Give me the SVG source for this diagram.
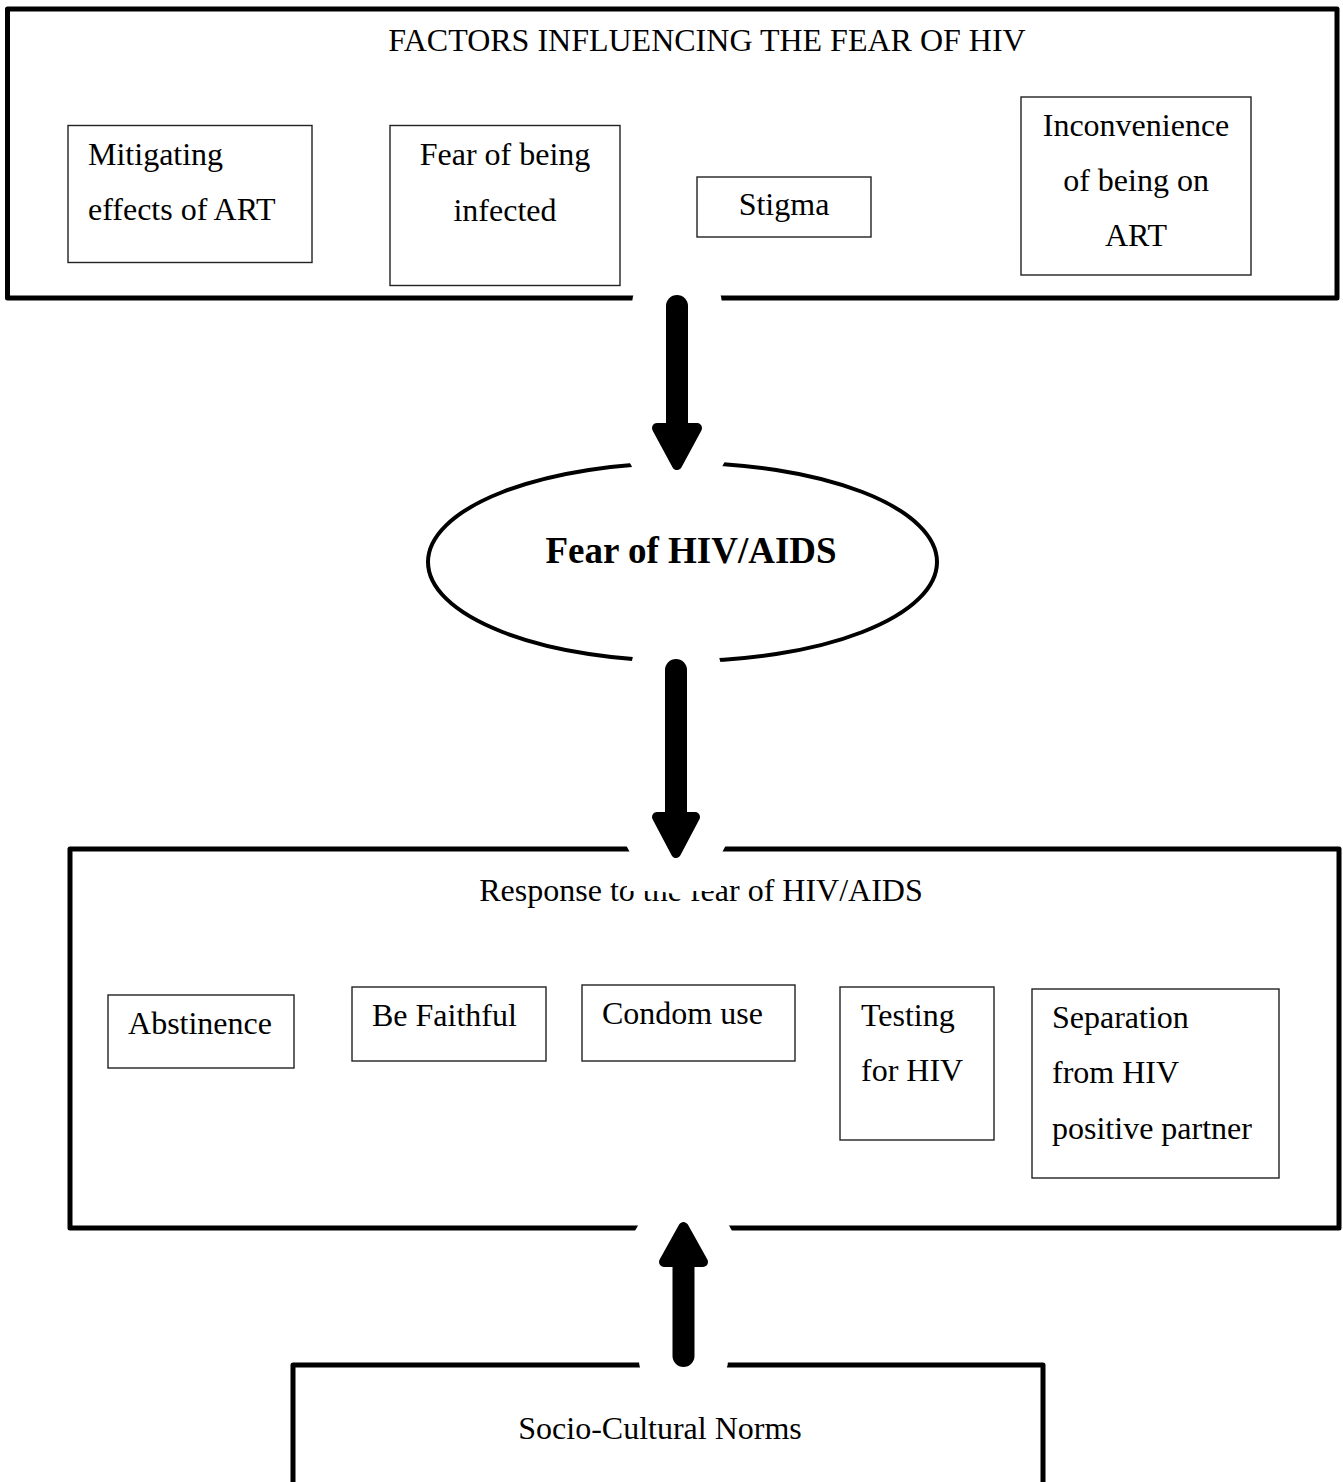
<svg xmlns="http://www.w3.org/2000/svg" width="1343" height="1482" viewBox="0 0 1343 1482">
<style>
.frame{fill:none;stroke:#000;stroke-width:5;stroke-linejoin:round}
.box{fill:#fff;stroke:#222;stroke-width:1.4}
.t{font-family:"Liberation Serif","Times New Roman",serif;font-size:32px;fill:#000}
.c{text-anchor:middle}
.b{font-weight:bold;font-size:37px}
.wshaft{stroke:#fff;stroke-width:90;stroke-linecap:round;fill:none}
.whead{fill:#fff;stroke:#fff;stroke-width:80;stroke-linejoin:round}
.shaft{stroke:#000;stroke-width:22;stroke-linecap:round;fill:none}
.head{fill:#000;stroke:#000;stroke-width:10;stroke-linejoin:round}
</style>
<rect width="1343" height="1482" fill="#fff"/>
<g id="factors">
<rect class="frame" x="7.5" y="9" width="1329.5" height="289"/>
<text class="t c" x="707" y="51">FACTORS INFLUENCING THE FEAR OF HIV</text>
</g>
<g id="mitigating">
<rect class="box" x="68" y="125.5" width="244" height="137"/>
<text class="t" x="88" y="165">Mitigating</text>
<text class="t" x="88" y="220">effects of ART</text>
</g>
<g id="fear-infected">
<rect class="box" x="390" y="125.5" width="230" height="160"/>
<text class="t c" x="505" y="165">Fear of being</text>
<text class="t c" x="505" y="221">infected</text>
</g>
<g id="stigma">
<rect class="box" x="697" y="177" width="174" height="60"/>
<text class="t c" x="784" y="215">Stigma</text>
</g>
<g id="inconvenience">
<rect class="box" x="1021" y="97" width="230" height="178"/>
<text class="t c" x="1136" y="136">Inconvenience</text>
<text class="t c" x="1136" y="191">of being on</text>
<text class="t c" x="1136" y="246">ART</text>
</g>
<g id="fear-hiv">
<ellipse cx="682.5" cy="562" rx="254.5" ry="99" fill="none" stroke="#000" stroke-width="4"/>
<text class="t b c" x="691" y="563">Fear of HIV/AIDS</text>
</g>
<g id="response">
<rect class="frame" x="70" y="849" width="1269" height="379"/>
<text class="t c" x="701" y="901">Response to the fear of HIV/AIDS</text>
</g>
<g id="abstinence">
<rect class="box" x="108" y="995" width="186" height="73"/>
<text class="t c" x="200" y="1034">Abstinence</text>
</g>
<g id="faithful">
<rect class="box" x="352" y="987" width="194" height="74"/>
<text class="t" x="372" y="1026">Be Faithful</text>
</g>
<g id="condom">
<rect class="box" x="582" y="985" width="213" height="76"/>
<text class="t" x="602" y="1024">Condom use</text>
</g>
<g id="testing">
<rect class="box" x="840" y="987" width="154" height="153"/>
<text class="t" x="861" y="1026">Testing</text>
<text class="t" x="861" y="1081">for HIV</text>
</g>
<g id="separation">
<rect class="box" x="1032" y="989" width="247" height="189"/>
<text class="t" x="1052" y="1028">Separation</text>
<text class="t" x="1052" y="1083">from HIV</text>
<text class="t" x="1052" y="1139">positive partner</text>
</g>
<g id="norms">
<rect class="frame" x="293" y="1365" width="750" height="130"/>
<text class="t c" x="660" y="1439">Socio-Cultural Norms</text>
</g>
<g id="connectors">
<g id="arrow-factors-fear">
<line class="wshaft" x1="677" y1="306" x2="677" y2="427"/>
<polygon class="whead" points="656,427 698,427 677,466"/>
<line class="shaft" x1="677" y1="306" x2="677" y2="427"/>
<polygon class="head" points="657,428 697,428 677,465"/>
</g>
<g id="arrow-fear-response">
<line class="wshaft" x1="676" y1="670" x2="676" y2="816"/>
<polygon class="whead" points="656,816 696,816 676,854"/>
<rect x="631" y="800" width="90" height="60" fill="#fff"/>
<rect x="627" y="858" width="94" height="33" fill="#fff"/>
<line class="shaft" x1="676" y1="670" x2="676" y2="816"/>
<polygon class="head" points="657,817 695,817 676,853"/>
</g>
<g id="arrow-norms-response">
<line class="wshaft" x1="683.5" y1="1356" x2="683.5" y2="1263"/>
<polygon class="whead" points="663,1263 704,1263 683.5,1226"/>
<line class="shaft" x1="683.5" y1="1356" x2="683.5" y2="1263"/>
<polygon class="head" points="664,1262 703,1262 683.5,1227"/>
</g>
</g>
</svg>
